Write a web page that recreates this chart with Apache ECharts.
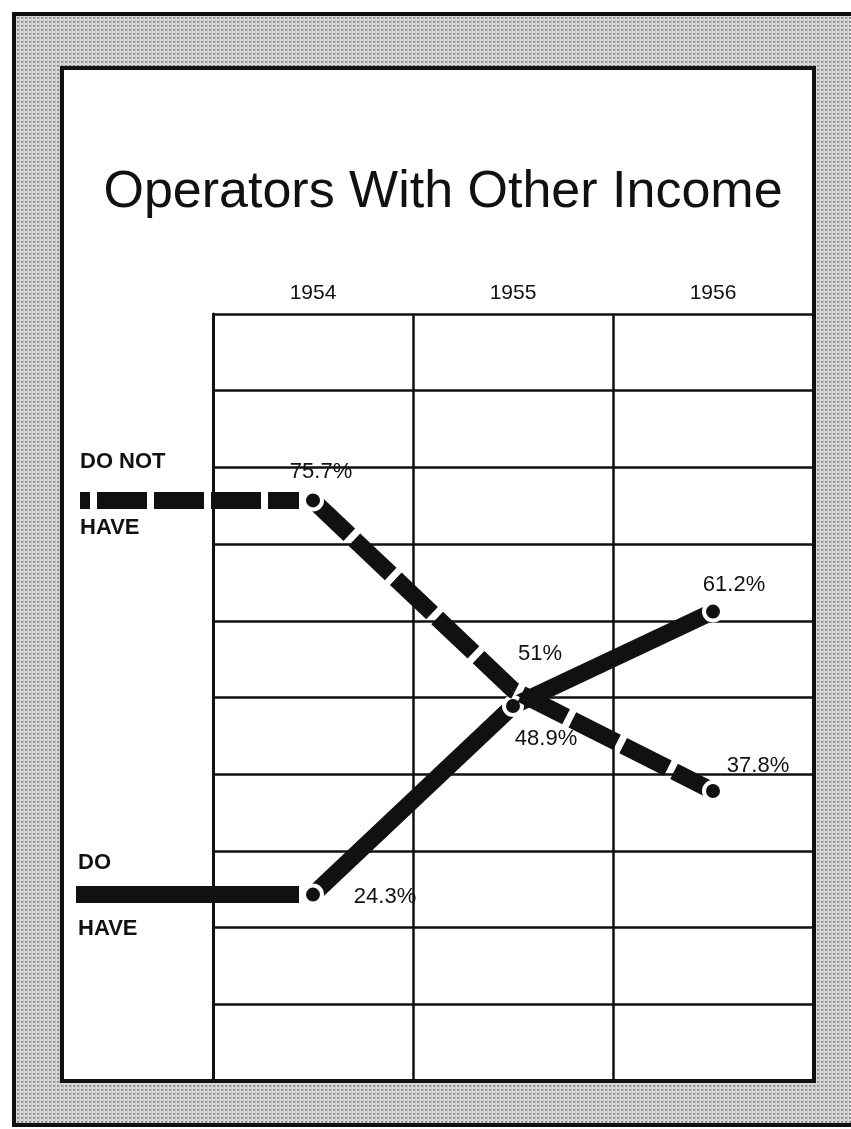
<!DOCTYPE html>
<html>
<head>
<meta charset="utf-8">
<script src="https://cdn.jsdelivr.net/npm/echarts@6/dist/echarts.min.js"></script>
<style>
  html, body { margin: 0; padding: 0; background: #fff; }
  #chart { width: 851px; height: 1129px; }
</style>
</head>
<body>
<div id="chart"></div>
<script>
// Share of farm operators with / without income from other sources
const years = ['1954', '1955', '1956'];
const doNotHave = [75.7, 51, 37.8];
const doHave = [24.3, 48.9, 61.2];
const seriesNames = ['DO NOT HAVE', 'DO HAVE'];

const INK = '#111';
const FONT = 'Liberation Sans, Arial, sans-serif';

// halftone tile for the grey frame
function halftone() {
  const c = document.createElement('canvas');
  c.width = 4; c.height = 4;
  const g = c.getContext('2d');
  g.fillStyle = '#dadada';
  g.fillRect(0, 0, 4, 4);
  g.fillStyle = '#9a9a9a';
  g.fillRect(1, 1, 2, 2);
  g.fillStyle = '#7c7c7c';
  g.fillRect(1, 1, 1, 1);
  g.fillStyle = '#c4c4c4';
  g.fillRect(3, 0, 1, 4);
  return c;
}

// label placement around each point [dx, dy]
const dnhOffsets = [[8, -28], [27, -36], [45, -25]];
const dhOffsets = [[72, 2], [33, 33], [21, -27]];

// the 1955 "do not have" point carries no dot, only its label
function items(values, offsets, dotSizes) {
  return values.map((v, i) => ({
    value: v,
    symbolSize: dotSizes[i],
    label: { offset: offsets[i] }
  }));
}

const labelStyle = {
  show: true,
  position: 'inside',
  formatter: '{c}%',
  color: INK,
  fontFamily: FONT,
  fontSize: 22
};

const chart = echarts.init(document.getElementById('chart'), null, { renderer: 'canvas' });

chart.setOption({
  animation: false,
  backgroundColor: '#fff',
  title: {
    text: 'Operators With Other Income',
    left: 438,
    top: 162,
    textAlign: 'center',
    textStyle: { color: INK, fontFamily: FONT, fontSize: 52, fontWeight: 'normal' }
  },
  graphic: [
    {
      id: 'frame', type: 'rect', z: -20, silent: true,
      shape: { x: 14, y: 14, width: 850, height: 1111 },
      style: { fill: { image: halftone(), repeat: 'repeat' }, stroke: INK, lineWidth: 4 }
    },
    {
      id: 'panel', type: 'rect', z: -10, silent: true,
      shape: { x: 62, y: 68, width: 752, height: 1013 },
      style: { fill: '#fff', stroke: INK, lineWidth: 4 }
    }
  ],
  grid: { left: 213, top: 314, width: 600, height: 767, containLabel: false },
  xAxis: {
    type: 'category',
    position: 'top',
    data: years,
    boundaryGap: true,
    axisLine: { show: true, lineStyle: { color: INK, width: 3 } },
    axisTick: { show: false },
    axisLabel: { color: INK, fontFamily: FONT, fontSize: 21, margin: 10 },
    splitLine: { show: true, lineStyle: { color: INK, width: 2.5 } }
  },
  yAxis: {
    type: 'value',
    min: 0,
    max: 100,
    interval: 10,
    axisLine: { show: true, lineStyle: { color: INK, width: 3 } },
    axisTick: { show: false },
    axisLabel: { show: false },
    splitLine: { show: true, lineStyle: { color: INK, width: 2.5 } }
  },
  series: [
    {
      name: seriesNames[1],
      type: 'line',
      z: 3,
      symbol: 'circle',
      data: items(doHave, dhOffsets, [18, 18, 18]),
      lineStyle: { color: INK, width: 17, cap: 'butt' },
      itemStyle: { color: INK, borderColor: '#fff', borderWidth: 4 },
      label: labelStyle,
      emphasis: { disabled: true }
    },
    {
      name: seriesNames[0],
      type: 'line',
      z: 4,
      symbol: 'circle',
      data: items(doNotHave, dnhOffsets, [18, 0.01, 18]),
      lineStyle: { color: INK, width: 17, type: [50, 7], cap: 'butt' },
      itemStyle: { color: INK, borderColor: '#fff', borderWidth: 4 },
      label: labelStyle,
      emphasis: { disabled: true }
    }
  ]
});

// lead-in bars from the left-hand captions to each 1954 point
const pDNH = chart.convertToPixel({ seriesIndex: 1 }, [0, doNotHave[0]]);
const pDH = chart.convertToPixel({ seriesIndex: 0 }, [0, doHave[0]]);
const capStyle = { fill: INK, font: 'bold 22px ' + FONT, textVerticalAlign: 'middle' };

chart.setOption({
  graphic: [
    {
      id: 'dnhLead', type: 'line', z: 5, silent: true,
      shape: { x1: 80, y1: pDNH[1], x2: pDNH[0] - 14, y2: pDNH[1] },
      style: { stroke: INK, lineWidth: 17, lineDash: [50, 7], lineDashOffset: 40 }
    },
    {
      id: 'dhLead', type: 'line', z: 5, silent: true,
      shape: { x1: 76, y1: pDH[1], x2: pDH[0] - 14, y2: pDH[1] },
      style: { stroke: INK, lineWidth: 17 }
    },
    { id: 'dnh1', type: 'text', z: 5, silent: true, x: 80, y: pDNH[1] - 38, style: Object.assign({ text: 'DO NOT' }, capStyle) },
    { id: 'dnh2', type: 'text', z: 5, silent: true, x: 80, y: pDNH[1] + 28, style: Object.assign({ text: 'HAVE' }, capStyle) },
    { id: 'dh1', type: 'text', z: 5, silent: true, x: 78, y: pDH[1] - 32, style: Object.assign({ text: 'DO' }, capStyle) },
    { id: 'dh2', type: 'text', z: 5, silent: true, x: 78, y: pDH[1] + 34, style: Object.assign({ text: 'HAVE' }, capStyle) }
  ]
});
</script>
</body>
</html>
